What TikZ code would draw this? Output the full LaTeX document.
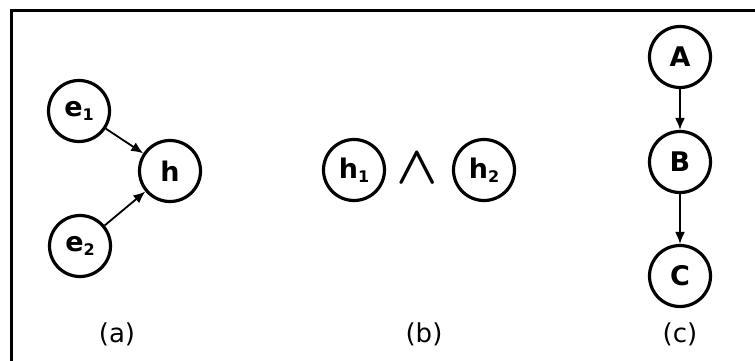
\documentclass[tikz,border=0pt]{standalone}
\usepackage{fontspec}
\usepackage{graphicx}
\setmainfont{DejaVu Sans}
\usetikzlibrary{arrows.meta}
\tikzset{
  var/.style={circle, draw, line width=3.2pt, minimum size=61pt, inner sep=0pt,
    font=\fontsize{27}{30}\selectfont\bfseries},
  edge/.style={line width=1.8pt, -{Latex[length=12pt,width=10pt]}},
  caption/.style={font=\fontsize{26}{30}\selectfont},
}
\newcommand{\sub}[1]{\raisebox{-4pt}{\fontsize{16}{18}\selectfont #1}}
\begin{document}
\begin{tikzpicture}[x=1pt,y=-1pt]
\useasboundingbox (0,0) rectangle (755,361);
\begin{scope}
\clip (0,0) rectangle (755,361);
\draw[line width=3pt] (11,400) -- (11,11) -- (800,11);
\end{scope}
% (a)
\node[var] (e1) at (79,111) {e\sub{1}};
\node[var] (h)  at (170,171) {h};
\node[var] (e2) at (80,246) {e\sub{2}};
\draw[edge] (e1) -- (h);
\draw[edge] (e2) -- (h);
\node[caption] (la) at (117,334) {(a)};
% (b)
\node[var] (h1) at (354,170) {h\sub{1}};
\node (and) at (417,168) {\scalebox{5.4}{\boldmath$\wedge$}};
\node[var] (h2) at (484,170) {h\sub{2}};
\node[caption] (lb) at (424,334) {(b)};
% (c)
\node[var] (A) at (680,57) {A};
\node[var] (B) at (680,162) {B};
\node[var] (C) at (680,276) {C};
\draw[edge] (A) -- (B);
\draw[edge] (B) -- (C);
\node[caption] (lc) at (680,334) {(c)};
\end{tikzpicture}
\end{document}
